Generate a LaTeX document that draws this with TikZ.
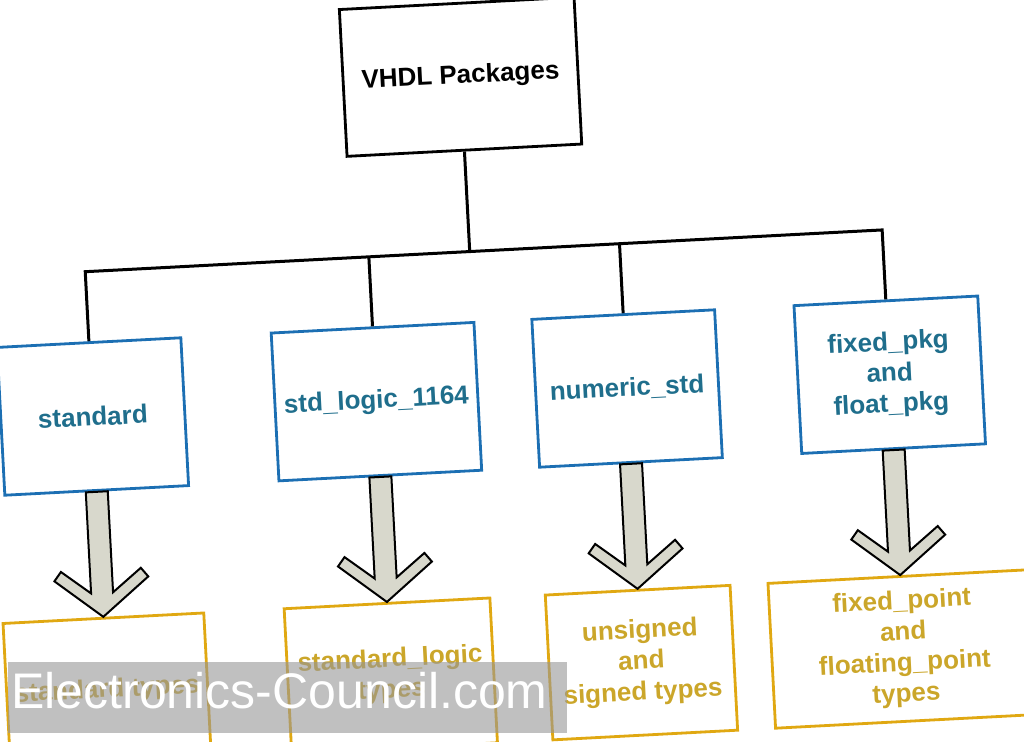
\documentclass[tikz,border=0pt]{standalone}
\usepackage{fontspec}
\setmainfont{Liberation Sans}
\usetikzlibrary{calc}

\definecolor{pkgblue}{HTML}{1C6FB3}
\definecolor{pkgtext}{HTML}{1F6E8C}
\definecolor{typeline}{HTML}{E0A812}
\definecolor{typetext}{HTML}{CBA62A}
\definecolor{arrowfill}{HTML}{D8D8CC}

\tikzset{
  box/.style={draw, line width=1.4pt, align=center, inner sep=0pt,
    font=\fontsize{13}{15.5}\selectfont\bfseries},
  rootbox/.style={box, minimum width=117.5pt, minimum height=73.5pt},
  pkgbox/.style={box, draw=pkgblue, text=pkgtext, minimum height=74pt},
  typebox/.style={box, draw=typeline, text=typetext, minimum height=72.5pt},
  wire/.style={line width=1.5pt},
  fatarr/.style={draw=black, line width=1pt, fill=arrowfill, line join=miter},
  band/.style={fill={rgb,255:red,150;green,150;blue,150}, fill opacity=0.6,
    minimum width=279.5pt, minimum height=35.5pt, inner sep=0pt},
  bandtext/.style={text=white, font=\fontsize{25}{25}\selectfont, inner sep=0pt}
}

\begin{document}
\begin{tikzpicture}[x=0.5pt, y=-0.5pt]
  \useasboundingbox (-512,-370.5) rectangle (512,370.5);
  \clip (-512,-370.5) rectangle (512,370.5);

  \begin{scope}[rotate=3, transform shape]
    % top
    \node[rootbox] (root) at (-36,-296) {VHDL Packages};

    % packages
    \node[pkgbox, minimum width=92pt]    (stdp) at (-421,24) {standard};
    \node[pkgbox, minimum width=101.5pt] (logp) at (-137,24) {std\_logic\_1164};
    \node[pkgbox, minimum width=91.5pt]  (nump) at (114,24)  {numeric\_std};
    \node[pkgbox, minimum width=92pt]    (fixp) at (377,24)  {fixed\_pkg\\and\\float\_pkg};

    % types
    \node[typebox, minimum width=100.5pt] (stdt) at (-421,298.5) {standard types};
    \node[typebox, minimum width=103pt]   (logt) at (-137,298.5) {standard\_logic\\types};
    \node[typebox, minimum width=92.5pt]  (numt) at (114,298.5)  {unsigned\\and\\signed types};
    \node[typebox, minimum width=132.5pt] (fixt) at (377,298.5)  {fixed\_point\\and\\floating\_point\\types};

    % bus
    \coordinate (b0) at (-36,-121);
    \coordinate (b1) at (-421,-121);
    \coordinate (b2) at (-137,-121);
    \coordinate (b3) at (114,-121);
    \coordinate (b4) at (377,-121);
    \draw[wire] (root.south) -- (b0);
    \draw[wire] (stdp.north) -- (b1) -- (b4) -- (fixp.north);
    \draw[wire] (logp.north) -- (b2);
    \draw[wire] (nump.north) -- (b3);

    % block arrows
    \foreach \a/\b in {stdp/stdt, logp/logt, nump/numt, fixp/fixt}
      \draw[fatarr] ($(\a.south)+(-11,0)$) -- ($(\b.north)+(-11,-24)$)
        -- ($(\b.north)+(-40,-47)$) -- ($(\b.north)+(-47,-38)$) -- (\b.north)
        -- ($(\b.north)+(47,-38)$) -- ($(\b.north)+(40,-47)$)
        -- ($(\b.north)+(11,-24)$) -- ($(\a.south)+(11,0)$) -- cycle;
  \end{scope}

  % watermark
  \node[band] (wm) at (-224.5,327) {};
  \node[bandtext, anchor=base west] (wmtext) at (-501,337.5) {Electronics-Council.com};
\end{tikzpicture}
\end{document}
